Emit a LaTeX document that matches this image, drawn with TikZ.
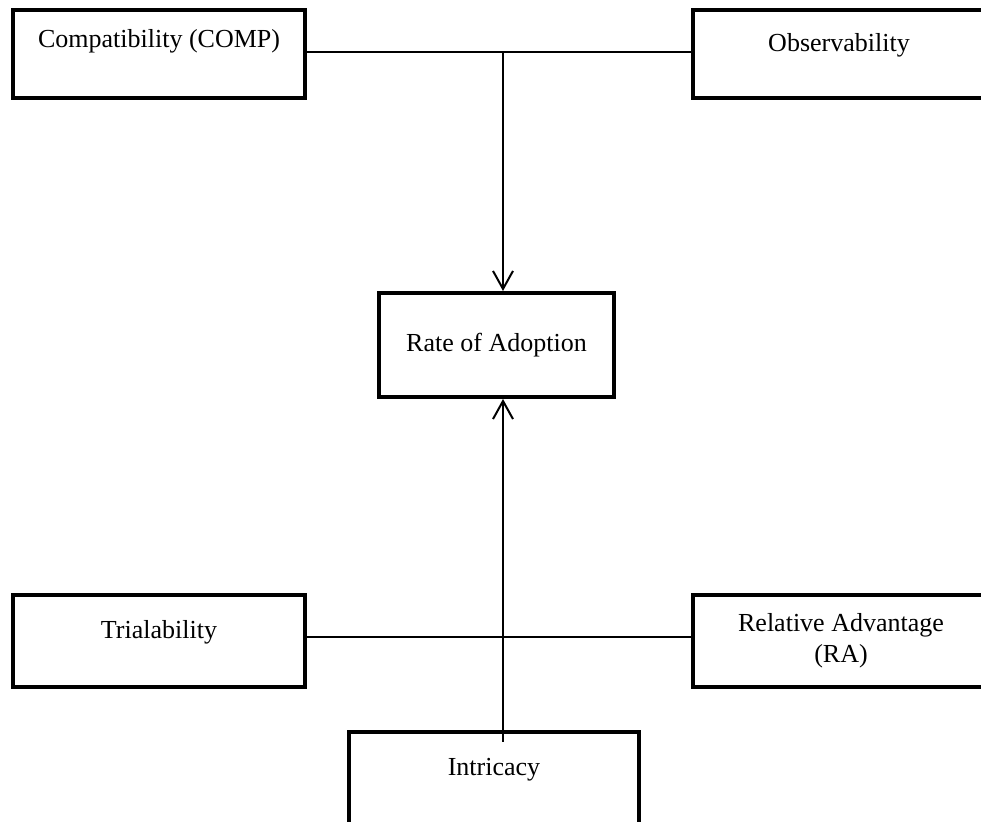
\documentclass[tikz,border=0pt]{standalone}
\usepackage{fontspec}
\setmainfont{Liberation Serif}
\usetikzlibrary{arrows.meta,calc}

\begin{document}
\begin{tikzpicture}[x=0.5pt, y=-0.5pt,
	factor/.style={draw, line width=2pt, minimum width=146pt, minimum height=44pt,
		inner sep=0pt, align=center, font=\fontsize{13}{15.5}\selectfont},
	raised/.style={factor, text height=9pt, text depth=#1},
	link/.style={line width=1pt},
	flow/.style={line width=1pt, -{Straight Barb[length=9pt, width=10pt, line width=1pt]}}]
			%%%%% START %%%%%
			\clip (0, 0) rectangle (981, 822);
			
			\node[raised=15pt] (comp) at (159, 54) {Compatibility (COMP)};
			\node[raised=11pt] (obs) at (839, 54) {Observability};
			
			\node[factor, minimum width=117.5pt, minimum height=52pt] (rate) at (496.5, 345) {Rate of Adoption};
			
			\node[raised=11pt, minimum height=46pt] (tri) at (159, 641) {Trialability};
			\node[factor, minimum height=46pt, minimum width=148pt] (ra) at (841, 641) {Relative Advantage\\(RA)};
			
			\node[raised=14pt, minimum width=145pt, minimum height=49pt] (intr) at (494, 781) {Intricacy};
			
			\coordinate (hub) at (503, 52);
			\coordinate (foot) at (503, 742);
			
			\draw[link] (comp.east |- hub) -- (obs.west |- hub);
			\draw[flow] (hub) -- (hub |- rate.north);
			
			\draw[link] ($(tri.east) + (0, -4)$) -- ($(ra.west) + (0, -4)$);
			\draw[flow] (foot) -- (foot |- rate.south);
			%%%%% END %%%%%
\end{tikzpicture}
\end{document}
